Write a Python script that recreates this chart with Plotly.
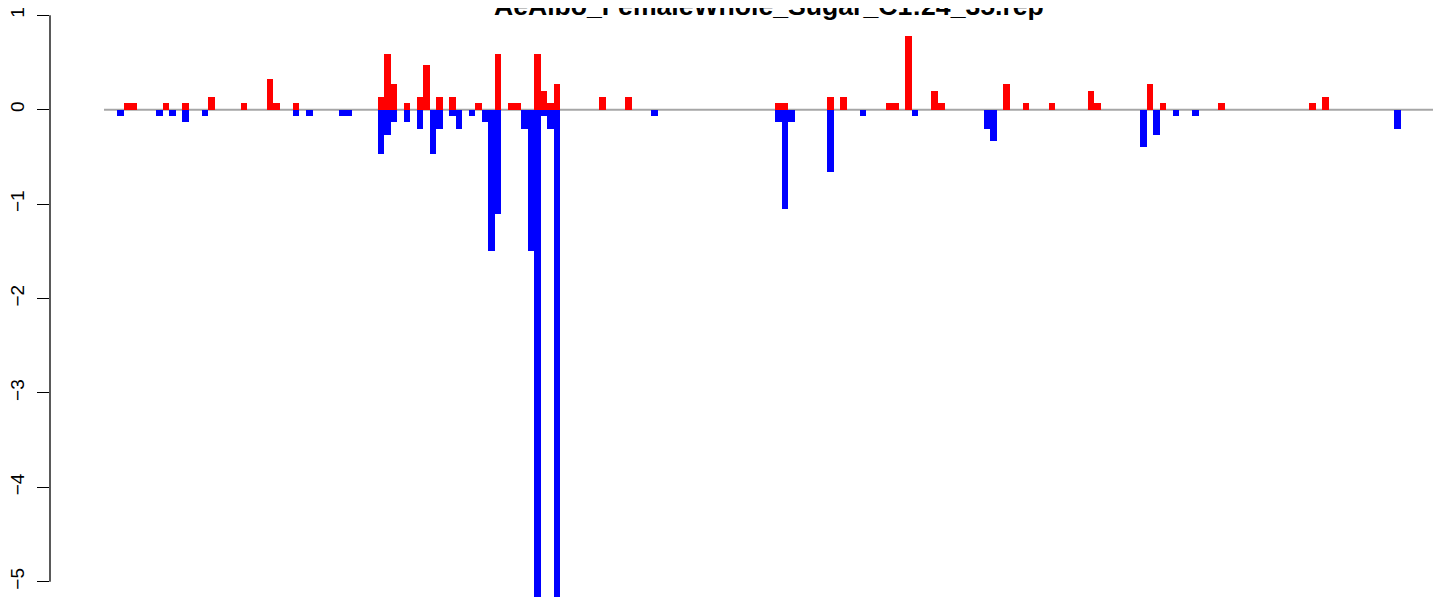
import plotly.graph_objects as go

title_text = 'AeAlbo_FemaleWhole_Sugar_C1:24_35.rep'

# number of bar slots along the x axis
n_slots = 204

# positive values (red), slot index and value
up_pos = [3, 4, 9, 12, 16, 21, 25, 26, 29, 42, 43, 44, 46, 48, 49, 51, 53, 57, 60,
          62, 63, 66, 67, 68, 69, 76, 80, 103, 104, 111, 113, 120, 121, 123, 127,
          128, 138, 141, 145, 151, 152, 160, 162, 171, 185, 187]
up_val = [0.07, 0.07, 0.07, 0.07, 0.13, 0.07, 0.33, 0.07, 0.07, 0.13, 0.59, 0.27,
          0.07, 0.13, 0.47, 0.13, 0.13, 0.07, 0.59, 0.07, 0.07, 0.59, 0.2, 0.07,
          0.27, 0.13, 0.13, 0.07, 0.07, 0.13, 0.13, 0.07, 0.07, 0.78, 0.2, 0.07,
          0.27, 0.07, 0.07, 0.2, 0.07, 0.27, 0.07, 0.07, 0.07, 0.13]

# negative values (blue), slot index and value
down_pos = [2, 8, 10, 12, 15, 29, 31, 36, 37, 42, 43, 44, 46, 48, 50, 51, 53, 54,
            56, 58, 59, 60, 64, 65, 66, 67, 68, 69, 84, 103, 104, 105, 111, 116,
            124, 135, 136, 159, 161, 164, 167, 198]
down_val = [-0.07, -0.07, -0.07, -0.13, -0.07, -0.07, -0.07, -0.07, -0.07, -0.47,
            -0.27, -0.13, -0.13, -0.2, -0.47, -0.2, -0.07, -0.2, -0.07, -0.13, -1.5,
            -1.11, -0.2, -1.5, -5.4, -0.07, -0.2, -5.4, -0.07, -0.13, -1.05, -0.13,
            -0.66, -0.07, -0.07, -0.2, -0.33, -0.4, -0.27, -0.07, -0.07, -0.2]

y_ticks = [1, 0, -1, -2, -3, -4, -5]

fig = go.Figure()

fig.add_trace(go.Bar(
    x=[p + 0.5 for p in up_pos], y=up_val, width=1,
    marker=dict(color='#FF0000', line=dict(width=0)),
    showlegend=False
))
fig.add_trace(go.Bar(
    x=[p + 0.5 for p in down_pos], y=down_val, width=1,
    marker=dict(color='#0000FF', line=dict(width=0)),
    showlegend=False
))

# grey zero line under the bars
fig.add_shape(type='line', xref='x', yref='y', x0=0, x1=n_slots, y0=0, y1=0,
              line=dict(color='#A6A6A6', width=2), layer='below')

# R style axis line, only between first and last tick
fig.add_shape(type='line', xref='paper', yref='y', x0=0, x1=0, y0=min(y_ticks), y1=max(y_ticks),
              line=dict(color='black', width=1.3))

# title sits partly above the picture, as in the original
fig.add_annotation(
    text='<b>' + title_text + '</b>', xref='x', yref='paper',
    x=(n_slots / 2), y=0.975, xanchor='center', yanchor='bottom',
    showarrow=False, font=dict(size=26.6, color='black', family='Liberation Sans, Arial')
)

# the page body adds an 8px offset, so the figure is 8px smaller here
fig.update_layout(
    width=1433, height=589,
    margin=dict(l=42, r=0, t=0, b=0, autoexpand=False),
    barmode='overlay', bargap=0,
    plot_bgcolor='white', paper_bgcolor='white',
    font=dict(family='Liberation Sans, Arial', color='black'),
    xaxis=dict(range=[-8.29, 205.2], visible=False, automargin=False),
    yaxis=dict(
        range=[-5.162, 1.077],
        tickvals=y_ticks,
        ticks='outside', ticklen=12, tickwidth=1.3, tickcolor='black',
        tickangle=-90, tickfont=dict(size=19, color='black'),
        ticklabelstandoff=5, ticklabeloverflow='allow', automargin=False,
        showgrid=False, zeroline=False, showline=False
    )
)

fig.write_html('out.html')
